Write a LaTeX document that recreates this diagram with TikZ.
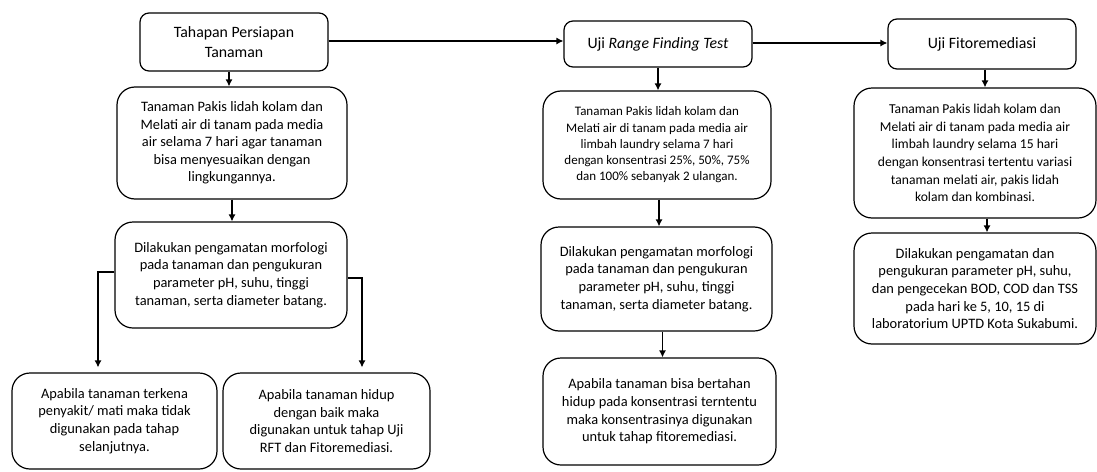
\documentclass[tikz,border=0pt]{standalone}
\usepackage{fontspec}
\setmainfont{Carlito}
\usetikzlibrary{arrows.meta}
\tikzset{
  kotak/.style={draw, line width=1.2pt, rounded corners=18pt, align=center, inner sep=2pt},
  judul/.style={kotak, rounded corners=9pt, font=\fontsize{15.8}{20}\selectfont},
  isiA/.style={font=\fontsize{14.4}{17.6}\selectfont},
  isiB/.style={font=\fontsize{13}{16.2}\selectfont},
  isiC/.style={font=\fontsize{13.6}{17.6}\selectfont},
}
\begin{document}
\begin{tikzpicture}[x=1pt,y=-1pt,>={Latex[length=7pt,width=7pt]},line width=1.2pt]
\useasboundingbox (0,0) rectangle (1097,471);
% baris judul
\node (tahap) at (234,42) [judul,minimum width=188pt,minimum height=58pt] {Tahapan Persiapan\\Tanaman};
\node (rft) at (658,44) [judul,minimum width=188pt,minimum height=46pt] {Uji \textit{Range Finding Test}};
\node (fito) at (982,44) [judul,minimum width=188pt,minimum height=50pt] {Uji Fitoremediasi};
% kolom persiapan
\node (tanamA) at (232,143) [kotak,isiA,minimum width=230pt,minimum height=112pt]
  {Tanaman Pakis lidah kolam dan\\Melati air di tanam pada media\\air selama 7 hari agar tanaman\\bisa menyesuaikan dengan\\lingkungannya.};
\node (amatA) at (231,275) [kotak,isiA,minimum width=232pt,minimum height=106pt]
  {Dilakukan pengamatan morfologi\\pada tanaman dan pengukuran\\parameter pH, suhu, tinggi\\tanaman, serta diameter batang.};
\node (matiA) at (114.5,421) [kotak,isiA,minimum width=205pt,minimum height=96pt]
  {Apabila tanaman terkena\\penyakit/ mati maka tidak\\digunakan pada tahap\\selanjutnya.};
\node (hidupA) at (326.5,421) [kotak,isiA,minimum width=207pt,minimum height=96pt]
  {Apabila tanaman hidup\\dengan baik maka\\digunakan untuk tahap Uji\\RFT dan Fitoremediasi.};
% kolom RFT
\node (tanamB) at (657,145) [kotak,isiB,minimum width=228pt,minimum height=108pt]
  {Tanaman Pakis lidah kolam dan\\Melati air di tanam pada media air\\limbah laundry selama 7 hari\\dengan konsentrasi 25\%, 50\%, 75\%\\dan 100\% sebanyak 2 ulangan.};
\node (amatB) at (656.5,279) [kotak,isiA,minimum width=231pt,minimum height=104pt]
  {Dilakukan pengamatan morfologi\\pada tanaman dan pengukuran\\parameter pH, suhu, tinggi\\tanaman, serta diameter batang.};
\node (hasilB) at (659.5,411.5) [kotak,isiA,minimum width=233pt,minimum height=107pt]
  {Apabila tanaman bisa bertahan\\hidup pada konsentrasi terntentu\\maka konsentrasinya digunakan\\untuk tahap fitoremediasi.};
% kolom fitoremediasi
\node (tanamC) at (975,153) [kotak,isiC,minimum width=242pt,minimum height=130pt]
  {Tanaman Pakis lidah kolam dan\\Melati air di tanam pada media air\\limbah laundry selama 15 hari\\dengan konsentrasi tertentu variasi\\tanaman melati air, pakis lidah\\kolam dan kombinasi.};
\node (amatC) at (975,288.5) [kotak,isiA,minimum width=242pt,minimum height=111pt]
  {Dilakukan pengamatan dan\\pengukuran parameter pH, suhu,\\dan pengecekan BOD, COD dan TSS\\pada hari ke 5, 10, 15 di\\laboratorium UPTD Kota Sukabumi.};
% panah
\draw[->] ([yshift=1pt]tahap.east) -- ([yshift=1pt]tahap.east -| rft.west);
\draw[->] ([yshift=1pt]rft.east) -- ([yshift=1pt]rft.east -| fito.west);
\draw[->] ([xshift=-5pt]tahap.south) -- ([xshift=-5pt]tahap.south |- tanamA.north);
\draw[->] (tanamA.south) -- (tanamA.south |- amatA.north);
\draw[->] ([yshift=3pt]amatA.west) -| ([xshift=-16.5pt,yshift=5pt]matiA.north);
\draw[->] ([yshift=-3pt]amatA.east) -| ([xshift=35.5pt,yshift=5pt]hidupA.north);
\draw[->] (rft.south) -- (rft.south |- tanamB.north);
\draw[->] ([xshift=2pt]tanamB.south) -- ([xshift=2pt]tanamB.south |- amatB.north);
\draw[->] ([xshift=6pt]amatB.south) -- ([xshift=6pt]amatB.south |- hasilB.north);
\draw[->] ([xshift=3pt]fito.south) -- ([xshift=3pt]fito.south |- tanamC.north);
\draw[->] ([xshift=12pt]tanamC.south) -- ([xshift=12pt]tanamC.south |- amatC.north);
\end{tikzpicture}
\end{document}
